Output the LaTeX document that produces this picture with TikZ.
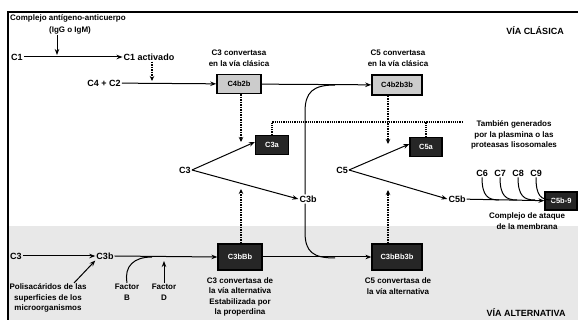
\documentclass[tikz,border=0pt]{standalone}
\usepackage{fontspec}
\setmainfont{Liberation Sans}
\usetikzlibrary{arrows.meta}
\begin{document}
\begin{tikzpicture}[x=1pt,y=-1pt,
  lab/.style={font=\bfseries\fontsize{8}{10.5}\selectfont, align=center, inner sep=1pt},
  big/.style={font=\bfseries\fontsize{9}{10}\selectfont, inner sep=1pt},
  ttl/.style={font=\bfseries\fontsize{9}{10}\selectfont, inner sep=1pt},
  lbox/.style={draw=black, line width=1.5pt, fill=gray!40, font=\bfseries\fontsize{7.5}{8}\selectfont, inner sep=1pt},
  dbox/.style={draw=black, line width=1.2pt, fill=black!85, text=white, font=\bfseries\fontsize{7.5}{8}\selectfont, inner sep=1pt},
  arr/.style={line width=1pt, -{Stealth[length=6pt,width=4.5pt]}},
  ln/.style={line width=1pt},
  dasharr/.style={line width=1.3pt, dash pattern=on 1.5pt off 1pt, -{Stealth[length=5pt,width=4.5pt]}},
  dotln/.style={line width=1.1pt, dash pattern=on 1.2pt off 1pt}]
\useasboundingbox (0,0) rectangle (578,320);
% alternative pathway background
\fill[gray!18] (8,226) rectangle (578,320);
% frame
\draw[line width=1.3pt] (8,320) -- (8,12) -- (578,12);

% titles
\node[ttl] (vc) at (535,31) {VÍA CLÁSICA};
\node[ttl] (va) at (526,313) {VÍA ALTERNATIVA};

% classical pathway
\node[lab, anchor=west] (cac) at (9,18) {Complejo antígeno-anticuerpo};
\node[lab] (igg) at (70,30) {(IgG o IgM)};
\node[big] (c1) at (17,57) {C1};
\node[big] (c1a) at (149,57) {C1 activado};
\coordinate (j1) at (57,55);
\draw[arr] (c1) -- (c1a);
\draw[arr] (igg.south -| j1) -- (j1);
\node[big] (c42) at (104,83) {C4 + C2};
\coordinate (j2) at (152,81);
\draw[dasharr] (c1a.south -| j2) -- (j2);

\node[lbox, minimum width=44pt, minimum height=19pt] (cc3) at (239,84) {C4b2b};
\node[lab] (tcc3) at (239,58) {C3 convertasa\\en la vía clásica};
\node[lbox, minimum width=50pt, minimum height=20pt] (cc5) at (397,85) {C4b2b3b};
\node[lab] (tcc5) at (398,58) {C5 convertasa\\en la vía clásica};
\draw[arr] (c42) -- (cc3);
\draw[arr] (cc3) -- (cc5);

% C3 cleavage
\node[dbox, minimum width=33pt, minimum height=19pt] (ba3) at (272,145) {C3a};
\node[dbox, minimum width=32pt, minimum height=19pt] (ba5) at (426,147) {C5a};
\node[big] (c3) at (185,170) {C3};
\node[big] (c3b) at (308,199) {C3b};
\node[big] (c5) at (342,170) {C5};
\node[big] (c5b) at (457,199) {C5b};
\draw[arr] (c3.east) -- ([yshift=3pt]ba3.west);
\draw[arr] (c3.east) -- (c3b.west);
\draw[arr] (c5.east) -- ([yshift=3pt]ba5.west);
\draw[arr] (c5.east) -- (c5b.west);

\coordinate (t1) at (241,142);
\coordinate (t2) at (241,189);
\coordinate (t3) at (388,144);
\coordinate (t4) at (388,190);
\draw[dasharr] (cc3.south -| t1) -- (t1);
\draw[dasharr] (cc5.south -| t3) -- (t3);

\node[lab] (tam) at (514,135) {También generados\\por la plasmina o las\\proteasas lisosomales};
\coordinate (dl) at (463,122);
\draw[dotln] (ba3.north) |- (dl);
\draw[dotln] (ba5.north) -- (ba5.north |- dl);

% C3b feeds C5 convertases
\coordinate (k1) at (335,85);
\coordinate (k2) at (335,258);
\draw[ln] (c3b.north -| 305,0) -- (305,112) .. controls (305,92) and (313,85) .. (k1);
\draw[ln] (c3b.south -| 305,0) -- (305,232) .. controls (305,252) and (313,258) .. (k2);

% MAC
\node[big] (c6) at (482,173) {C6};
\node[big] (c7) at (500,173) {C7};
\node[big] (c8) at (518,173) {C8};
\node[big] (c9) at (536,173) {C9};
\node[dbox, minimum width=32pt, minimum height=18pt] (mac) at (561,201) {C5b-9};
\draw[arr] (c5b) -- (mac);
\draw[ln] (c6.south) .. controls (482,196) and (488,200) .. (499,200);
\draw[ln] (c7.south) .. controls (500,196) and (506,200) .. (517,200);
\draw[ln] (c8.south) .. controls (518,196) and (524,200) .. (535,200);
\draw[ln] (c9.south) .. controls (536,196) and (541,200) .. (552,200);
\node[lab] (tmac) at (527,221) {Complejo de ataque\\de la membrana};

% alternative pathway
\node[big] (bc3) at (16,256) {C3};
\node[big] (bc3b) at (105,256) {C3b};
\draw[arr] (bc3) -- (bc3b);
\node[dbox, minimum width=44pt, minimum height=26pt] (alt3) at (240,257) {C3bBb};
\node[dbox, minimum width=50pt, minimum height=26pt] (alt5) at (397,257) {C3bBb3b};
\draw[arr] (bc3b.east) -- (alt3.west);
\draw[arr] (alt3) -- (alt5);
\draw[dasharr] (alt3.north -| t2) -- (t2);
\draw[dasharr] (alt5.north -| t4) -- (t4);

\node[lab] (fb) at (127,292) {Factor\\B};
\node[lab] (fd) at (164,292) {Factor\\D};
\coordinate (jb) at (152,257);
\coordinate (jd) at (164,261);
\draw[ln] (fb.north) .. controls (124,266) and (134,257) .. (jb);
\draw[arr] (fd.north) -- (jd);

\node[lab] (poly) at (48,298) {Polisacáridos de las\\superficies de los\\microorganismos};
\coordinate (ps) at (74,283);
\draw[arr] (ps) -- (bc3b.south west);

\node[lab] (talt3) at (240,297) {C3 convertasa de\\la vía alternativa\\Estabilizada por\\la properdina};
\node[lab] (talt5) at (398,286) {C5 convertasa de\\la vía alternativa};
\end{tikzpicture}
\end{document}
